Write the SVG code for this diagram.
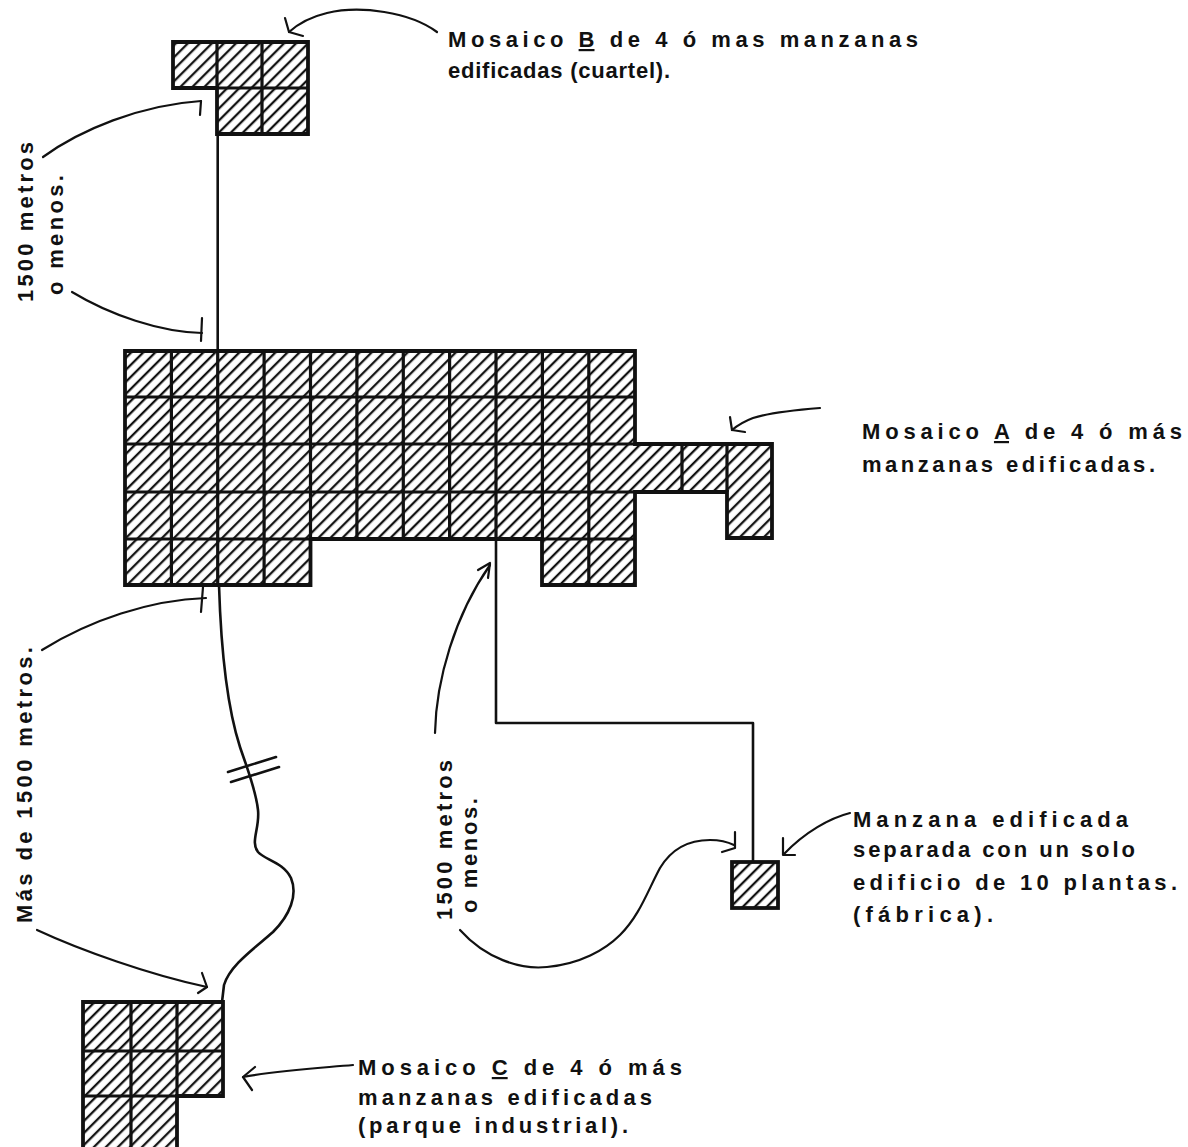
<svg xmlns="http://www.w3.org/2000/svg" width="1188" height="1147" viewBox="0 0 1188 1147">
  <defs>
    <pattern id="hatch" patternUnits="userSpaceOnUse" width="8.5" height="8.5" patternTransform="rotate(45)">
      <line x1="2" y1="-1" x2="2" y2="10" stroke="#111" stroke-width="2.3"/>
    </pattern>
    <style>
      .cellfill { fill: url(#hatch); stroke: #111; stroke-width: 3.8; stroke-linejoin: miter; }
      .grid { fill: none; stroke: #111; stroke-width: 3.2; }
      .conn { fill: none; stroke: #111; stroke-width: 2.6; stroke-linecap: round; stroke-linejoin: round; }
      .lead { fill: none; stroke: #111; stroke-width: 2.2; stroke-linecap: round; stroke-linejoin: round; }
      .lbl { font-family: "Liberation Sans", "DejaVu Sans", sans-serif; font-size: 22px; font-weight: bold; fill: #111; }
      .ul { text-decoration: underline; }
    </style>
  </defs>
  <rect x="0" y="0" width="1188" height="1147" fill="#fff"/>

  <!-- Mosaico B -->
  <g id="mosaico-b">
    <path class="cellfill" d="M173,42 H308 V134 H217 V88 H173 Z"/>
    <path class="grid" d="M173,88 H308 M217,42 V88 M262,42 V134"/>
  </g>

  <!-- Mosaico A -->
  <g id="mosaico-a">
    <path class="cellfill" d="M125,351 H635 V444 H772 V538 H727 V492 H635 V585 H542 V539 H310.5 V585 H125 Z"/>
    <path class="grid" d="M125,397 H635 M125,444 H635 M125,492 H727 M125,539 H635
      M171.4,351 V585 M217.7,351 V585 M264.1,351 V585 M310.5,351 V539
      M356.9,351 V539 M403.3,351 V539 M449.6,351 V539 M496,351 V539
      M542.4,351 V539 M588.8,351 V585 M682,444 V492 M727,444 V492"/>
  </g>

  <!-- Mosaico C -->
  <g id="mosaico-c">
    <path class="cellfill" d="M83,1002 H223 V1096 H177 V1152 H83 Z"/>
    <path class="grid" d="M83,1051 H223 M83,1096 H177 M131,1002 V1152 M177,1002 V1096"/>
  </g>

  <!-- Manzana separada -->
  <g id="manzana-separada">
    <rect class="cellfill" x="732" y="862" width="46" height="46"/>
  </g>

  <!-- Connectors -->
  <g id="connectors">
    <path class="conn" d="M217.7,134 V351"/>
    <path class="conn" d="M219,585 C221,650 228,710 240,747 C246,765 256,790 258,810 C260,828 250,842 258,852 C265,860 283,862 291,878 C298,895 290,915 273,932 C255,948 230,965 224,985 L222,1002"/>
    <path class="conn" d="M228,772 L276,757 M231,782 L279,767"/>
    <path class="conn" d="M496,539 V723 H753 V862"/>
  </g>

  <!-- Leader arrows -->
  <g id="leaders">
    <path class="lead" d="M437,32 C410,12 360,5 327,13 C310,17 298,24 289,32"/>
    <path class="lead" d="M285,18 L289,32 L303,36"/>

    <path class="lead" d="M43,157 C80,130 140,105 201,101"/>
    <path class="lead" d="M201,101 L200,115"/>
    <path class="lead" d="M72,292 C110,315 160,332 202,333"/>
    <path class="lead" d="M202,318 L201,341"/>

    <path class="lead" d="M42,650 C90,620 150,600 206,598"/>
    <path class="lead" d="M203,587 L201,612"/>
    <path class="lead" d="M37,930 C80,950 150,975 207,987"/>
    <path class="lead" d="M202,973 L207,987 L198,993"/>

    <path class="lead" d="M820,408 C795,410 765,414 753,418 C745,421 738,425 732,430"/>
    <path class="lead" d="M730,417 L732,430 L745,432"/>

    <path class="lead" d="M435,733 C436,680 455,615 490,565"/>
    <path class="lead" d="M478,570 L490,563 L488,578"/>

    <path class="lead" d="M460,930 C485,958 520,970 547,967 C580,964 605,950 620,935 C640,915 648,890 660,868 C672,848 690,840 710,840 C720,840 728,842 734,845"/>
    <path class="lead" d="M735,832 L735,848 L722,852"/>

    <path class="lead" d="M850,813 C830,818 805,832 784,854"/>
    <path class="lead" d="M783,838 L783,855 L795,855"/>

    <path class="lead" d="M353,1065 C320,1068 280,1070 243,1077"/>
    <path class="lead" d="M255,1067 L243,1077 L252,1090"/>
  </g>

  <!-- Labels -->
  <g id="label-b">
    <text class="lbl" x="448" y="47" textLength="470" lengthAdjust="spacing">Mosaico <tspan class="ul">B</tspan> de 4 ó mas manzanas</text>
    <text class="lbl" x="448" y="78" textLength="222" lengthAdjust="spacing">edificadas (cuartel).</text>
  </g>
  <g id="label-a">
    <text class="lbl" x="862" y="439" textLength="320" lengthAdjust="spacing">Mosaico <tspan class="ul">A</tspan> de 4 ó más</text>
    <text class="lbl" x="862" y="472" textLength="293" lengthAdjust="spacing">manzanas edificadas.</text>
  </g>
  <g id="label-manzana">
    <text class="lbl" x="853" y="827" textLength="275" lengthAdjust="spacing">Manzana edificada</text>
    <text class="lbl" x="853" y="857" textLength="282" lengthAdjust="spacing">separada con un solo</text>
    <text class="lbl" x="853" y="890" textLength="324" lengthAdjust="spacing">edificio de 10 plantas.</text>
    <text class="lbl" x="853" y="922" textLength="140" lengthAdjust="spacing">(fábrica).</text>
  </g>
  <g id="label-c">
    <text class="lbl" x="358" y="1075" textLength="324" lengthAdjust="spacing">Mosaico <tspan class="ul">C</tspan> de 4 ó más</text>
    <text class="lbl" x="358" y="1105" textLength="294" lengthAdjust="spacing">manzanas edificadas</text>
    <text class="lbl" x="358" y="1133" textLength="270" lengthAdjust="spacing">(parque industrial).</text>
  </g>
  <g id="label-dist-b">
    <text class="lbl" transform="translate(33,302) rotate(-90)" textLength="160" lengthAdjust="spacing">1500 metros</text>
    <text class="lbl" transform="translate(63,295) rotate(-90)" textLength="120" lengthAdjust="spacing">o menos.</text>
  </g>
  <g id="label-dist-c">
    <text class="lbl" transform="translate(32,923) rotate(-90)" textLength="276" lengthAdjust="spacing">Más de 1500 metros.</text>
  </g>
  <g id="label-dist-manzana">
    <text class="lbl" transform="translate(452,920) rotate(-90)" textLength="160" lengthAdjust="spacing">1500 metros</text>
    <text class="lbl" transform="translate(477,913) rotate(-90)" textLength="115" lengthAdjust="spacing">o menos.</text>
  </g>
</svg>
